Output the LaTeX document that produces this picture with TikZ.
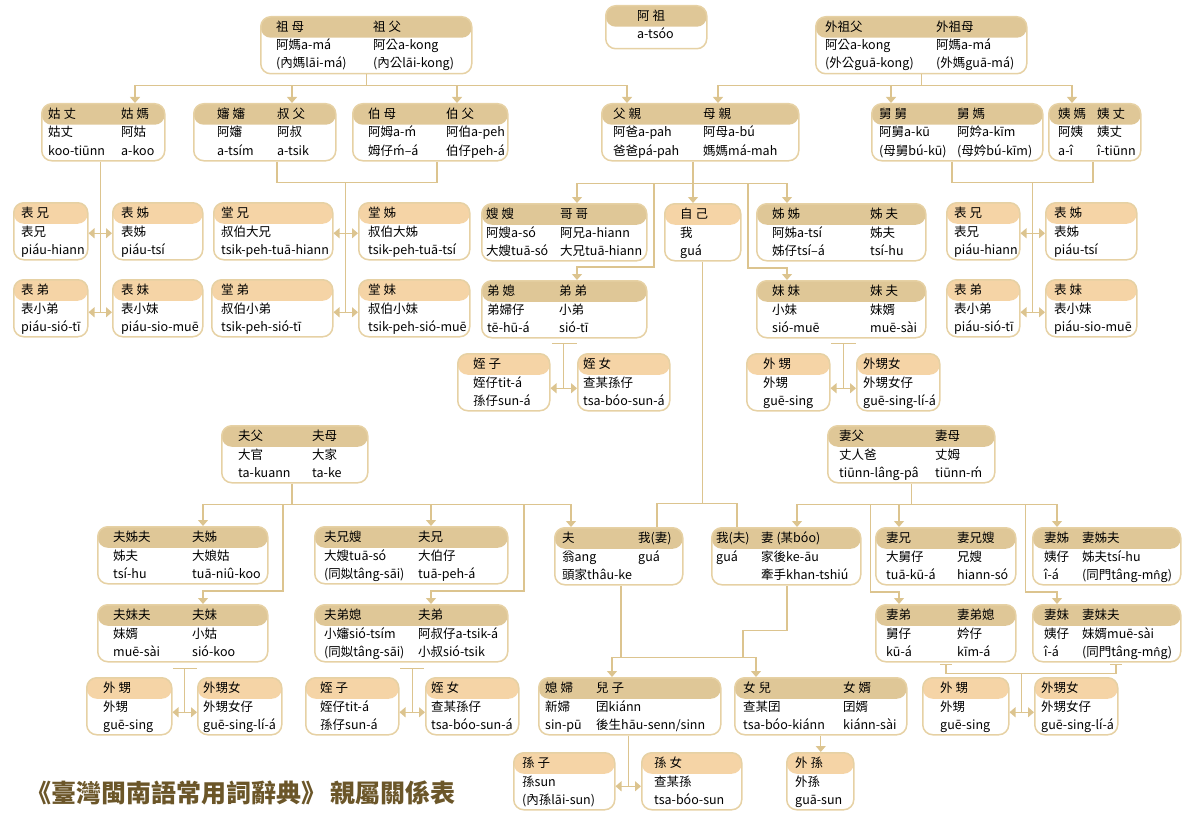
\documentclass[tikz,border=0pt]{standalone}
\usepackage{fontspec}
\setmainfont{Noto Sans CJK TC}
\newfontfamily\markfont[Scale=0.9]{DejaVu Sans}
\usetikzlibrary{arrows.meta}

\definecolor{hdtan}{HTML}{DFC797}
\definecolor{hdpeach}{HTML}{F5D4A6}
\definecolor{boxedge}{HTML}{E6D1A4}
\definecolor{linktan}{HTML}{DCC48F}
\definecolor{titlebrown}{HTML}{6B5629}

\newcommand{\kinfont}{\fontsize{12.5}{15}\selectfont}
\newcommand{\nhat}{{\markfont n̂}}

% a box with two columns: name, box options, left x, right x, left column, right column
\newcommand{\kin}[6]{%
  \node[#2] (#1) {};
  \kincol{#1}{l}{#3}#5\relax
  \kincol{#1}{r}{#4}#6\relax}
% a box with one column
\newcommand{\kinone}[4]{%
  \node[#2] (#1) {};
  \kincol{#1}{l}{#3}#4\relax}
\def\kincol#1#2#3#4|#5|#6\relax{%
  \node[kintext] (#1#2h) at ([xshift=#3pt,yshift=-15.5pt]#1.north west) {#4};
  \node[kintext] (#1#2a) at ([xshift=#3pt,yshift=-34pt]#1.north west) {#5};
  \node[kintext] (#1#2b) at ([xshift=#3pt,yshift=-52pt]#1.north west) {#6};}

\begin{document}
\begin{tikzpicture}[
		x=1pt, y=-1pt,
		kinbox/.style={draw=boxedge, line width=1.5pt, fill=white, rounded corners=10pt,
			anchor=north west, minimum height=57, inner sep=0},
		tanbox/.style={kinbox, path picture={\fill[hdtan] (path picture bounding box.north west)
			rectangle ([yshift=-21pt]path picture bounding box.north east);}},
		peachbox/.style={kinbox, path picture={\fill[hdpeach] (path picture bounding box.north west)
			rectangle ([yshift=-21pt]path picture bounding box.north east);}},
		kintext/.style={anchor=base west, inner sep=0, font=\kinfont},
		link/.style={draw=linktan, line width=1.2pt},
		tip/.style={link, -{Triangle[width=10pt,length=6pt]}},
		twotip/.style={link, {Triangle[width=10pt,length=6pt]}-{Triangle[width=10pt,length=6pt]}},
	]
	\useasboundingbox (0,0) rectangle (1191,824);

	% grandparents
	\kin{gp}{tanbox, at={(260,16)}, minimum width=211}{16}{113}{祖 母|阿媽a-má|(內媽lāi-má)}{祖 父|阿公a-kong|(內公lāi-kong)}
	\kinone{az}{tanbox, at={(605,5)}, minimum width=101, minimum height=43}{32}{阿 祖|a-tsóo|}
	\kin{mgp}{tanbox, at={(815,16)}, minimum width=211}{10}{121}{外祖父|阿公a-kong|(外公guā-kong)}{外祖母|阿媽a-má|(外媽guā-má)}

	% parents' generation
	\kin{gz}{tanbox, at={(41,103)}, minimum width=123}{7}{80}{姑 丈|姑丈|koo-tiūnn}{姑 媽|阿姑|a-koo}
	\kin{ss}{tanbox, at={(193,103)}, minimum width=142}{24}{84}{嬸 嬸|阿嬸|a-tsím}{叔 父|阿叔|a-tsik}
	\kin{bm}{tanbox, at={(352,103)}, minimum width=155}{16}{94}{伯 母|阿姆a-ḿ|姆仔ḿ--á}{伯 父|阿伯a-peh|伯仔peh-á}
	\kin{fq}{tanbox, at={(601,103)}, minimum width=197}{12}{102}{父 親|阿爸a-pah|爸爸pá-pah}{母 親|阿母a-bú|媽媽má-mah}
	\kin{jj}{tanbox, at={(871,103)}, minimum width=171}{8}{86}{舅 舅|阿舅a-kū|(母舅bú-kū)}{舅 媽|阿妗a-kīm|(母妗bú-kīm)}
	\kin{ym}{tanbox, at={(1048,103)}, minimum width=92}{10}{49}{姨 媽|阿姨|a-î}{姨 丈|姨丈|î-tiūnn}

	% own generation
	\kinone{bx1}{peachbox, at={(13,202)}, minimum width=74}{8}{表 兄|表兄|piáu-hiann}
	\kinone{bz1}{peachbox, at={(112,202)}, minimum width=90}{9}{表 姊|表姊|piáu-tsí}
	\kinone{tx}{peachbox, at={(213,202)}, minimum width=119}{8}{堂 兄|叔伯大兄|tsik-peh-tuā-hiann}
	\kinone{tz}{peachbox, at={(358,202)}, minimum width=111}{10}{堂 姊|叔伯大姊|tsik-peh-tuā-tsí}
	\kin{sao}{tanbox, at={(481,203)}, minimum width=165}{5}{79}{嫂 嫂|阿嫂a-só|大嫂tuā-só}{哥 哥|阿兄a-hiann|大兄tuā-hiann}
	\kinone{zj}{peachbox, at={(664,203)}, minimum width=76}{16}{自 己|我|guá}
	\kin{jz}{tanbox, at={(756,203)}, minimum width=169}{16}{114}{姊 姊|阿姊a-tsí|姊仔tsí--á}{姊 夫|姊夫|tsí-hu}
	\kinone{bx2}{peachbox, at={(946,202)}, minimum width=73}{8}{表 兄|表兄|piáu-hiann}
	\kinone{bz2}{peachbox, at={(1045,202)}, minimum width=91}{9}{表 姊|表姊|piáu-tsí}

	\kinone{bd1}{peachbox, at={(13,279)}, minimum width=74}{8}{表 弟|表小弟|piáu-sió-tī}
	\kinone{bm1}{peachbox, at={(112,279)}, minimum width=90}{9}{表 妹|表小妹|piáu-sio-muē}
	\kinone{td}{peachbox, at={(211,279)}, minimum width=121}{10}{堂 弟|叔伯小弟|tsik-peh-sió-tī}
	\kinone{tm}{peachbox, at={(358,279)}, minimum width=111}{10}{堂 妹|叔伯小妹|tsik-peh-sió-muē}
	\kin{dx}{tanbox, at={(481,280)}, minimum width=165}{6}{78}{弟 媳|弟婦仔|tē-hū-á}{弟 弟|小弟|sió-tī}
	\kin{mm}{tanbox, at={(756,280)}, minimum width=169}{16}{114}{妹 妹|小妹|sió-muē}{妹 夫|妹婿|muē-sài}
	\kinone{bd2}{peachbox, at={(946,279)}, minimum width=73}{8}{表 弟|表小弟|piáu-sió-tī}
	\kinone{bm2}{peachbox, at={(1045,279)}, minimum width=91}{9}{表 妹|表小妹|piáu-sio-muē}

	\kinone{zz1}{peachbox, at={(457,353)}, minimum width=92}{16}{姪 子|姪仔tit-á|孫仔sun-á}
	\kinone{zn1}{peachbox, at={(577,353)}, minimum width=92}{6}{姪 女|查某孫仔|tsa-bóo-sun-á}
	\kinone{ws1}{peachbox, at={(746,353)}, minimum width=83}{17}{外 甥|外甥|guē-sing}
	\kinone{wn1}{peachbox, at={(856,353)}, minimum width=83}{7}{外甥女|外甥女仔|guē-sing-lí-á}

	% in-laws
	\kin{fp}{tanbox, at={(221,425)}, minimum width=146}{17}{91}{夫父|大官|ta-kuann}{夫母|大家|ta-ke}
	\kin{qp}{tanbox, at={(827,425)}, minimum width=167}{12}{108}{妻父|丈人爸|tiūnn-lâng-pâ}{妻母|丈姆|tiūnn-ḿ}

	\kin{fzf}{tanbox, at={(97,526)}, minimum width=170}{16}{95}{夫姊夫|姊夫|tsí-hu}{夫姊|大娘姑|tuā-niû-koo}
	\kin{fxs}{tanbox, at={(314,526)}, minimum width=193}{10}{104}{夫兄嫂|大嫂tuā-só|(同姒tâng-sāi)}{夫兄|大伯仔|tuā-peh-á}
	\kin{fu}{tanbox, at={(554,527)}, minimum width=128}{8}{84}{夫|翁ang|頭家thâu-ke}{我(妻)|guá|}
	\kin{qi}{tanbox, at={(711,527)}, minimum width=149}{5}{50}{我(夫)|guá|}{妻 (某bóo)|家後ke-āu|牽手khan-tshiú}
	\kin{qx}{tanbox, at={(875,527)}, minimum width=140}{11}{82}{妻兄|大舅仔|tuā-kū-á}{妻兄嫂|兄嫂|hiann-só}
	\kin{qz}{tanbox, at={(1032,527)}, minimum width=148}{12}{50}{妻姊|姨仔|î-á}{妻姊夫|姊夫tsí-hu|(同門tâng-m\nhat g)}

	\kin{fmf}{tanbox, at={(97,604)}, minimum width=170}{16}{95}{夫妹夫|妹婿|muē-sài}{夫妹|小姑|sió-koo}
	\kin{fdx}{tanbox, at={(314,604)}, minimum width=193}{10}{104}{夫弟媳|小嬸sió-tsím|(同姒tâng-sāi)}{夫弟|阿叔仔a-tsik-á|小叔sió-tsik}
	\kin{qd}{tanbox, at={(875,604)}, minimum width=140}{11}{82}{妻弟|舅仔|kū-á}{妻弟媳|妗仔|kīm-á}
	\kin{qm}{tanbox, at={(1032,604)}, minimum width=148}{12}{50}{妻妹|姨仔|î-á}{妻妹夫|妹婿muē-sài|(同門tâng-m\nhat g)}

	% children and grandchildren
	\kinone{ws2}{peachbox, at={(86,677)}, minimum width=85}{17}{外 甥|外甥|guē-sing}
	\kinone{wn2}{peachbox, at={(197,677)}, minimum width=84}{6}{外甥女|外甥女仔|guē-sing-lí-á}
	\kinone{zz2}{peachbox, at={(305,677)}, minimum width=93}{15}{姪 子|姪仔tit-á|孫仔sun-á}
	\kinone{zn2}{peachbox, at={(425,677)}, minimum width=93}{6}{姪 女|查某孫仔|tsa-bóo-sun-á}
	\kin{xf}{tanbox, at={(538,677)}, minimum width=182}{7}{58}{媳 婦|新婦|sin-pū}{兒 子|囝kiánn|後生hāu-senn/sinn}
	\kin{ne}{tanbox, at={(734,677)}, minimum width=172}{9}{109}{女 兒|查某囝|tsa-bóo-kiánn}{女 婿|囝婿|kiánn-sài}
	\kinone{ws3}{peachbox, at={(922,677)}, minimum width=86}{18}{外 甥|外甥|guē-sing}
	\kinone{wn3}{peachbox, at={(1034,677)}, minimum width=83}{7}{外甥女|外甥女仔|guē-sing-lí-á}

	\kinone{sz}{peachbox, at={(513,752)}, minimum width=101}{9}{孫 子|孫sun|(內孫lāi-sun)}
	\kinone{sn}{peachbox, at={(641,752)}, minimum width=100}{13}{孫 女|查某孫|tsa-bóo-sun}
	\kinone{ws}{peachbox, at={(786,752)}, minimum width=67}{9}{外 孫|外孫|guā-sun}

	\node (title) [anchor=west, inner sep=0, text=titlebrown, font=\fontsize{25}{25}\selectfont\bfseries] at (26,793) {《臺灣閩南語常用詞辭典》\,親屬關係表};

	% grandparents' children
	\draw[link] (gp.south) -- ++(0,11) coordinate (gpb);
	\draw[tip] (gpb) -| ([xshift=94]gz.north west);
	\draw[tip] (gpb) -| ([xshift=99]ss.north west);
	\draw[tip] (gpb) -| ([xshift=105]bm.north west);
	\draw[tip] (gpb) -| ([xshift=26]fq.north west);

	\draw[link] (mgp.south) -- ++(0,11) coordinate (mgpb);
	\draw[tip] (mgpb) -| ([xshift=117]fq.north west);
	\draw[tip] (mgpb) -| ([xshift=20]jj.north west);
	\draw[tip] (mgpb) -| ([xshift=24]ym.north west);

	% cousins
	\draw[twotip] ([yshift=-2]bx1.east) -- ([yshift=-2]bz1.west);
	\draw[twotip] ([yshift=-4]bd1.east) -- coordinate (gzc) ([yshift=-4]bm1.west);
	\draw[link] (gzc |- gz.south) -- (gzc);

	\draw[link] ([xshift=84]ss.south west) -- ++(0,21) coordinate (ssb) -| ([xshift=85]bm.south west);
	\draw[twotip] ([yshift=-2]tx.east) -- ([yshift=-2]tz.west);
	\draw[twotip] ([yshift=-4]td.east) -- coordinate (ssc) ([yshift=-4]tm.west);
	\draw[link] (ssc |- ssb) -- (ssc);

	\draw[link] ([xshift=81]jj.south west) -- ++(0,21) coordinate (jjb) -| ([xshift=45]ym.south west);
	\draw[twotip] ([yshift=-2]bx2.east) -- ([yshift=-2]bz2.west);
	\draw[twotip] ([yshift=-4]bd2.east) -- coordinate (jjc) ([yshift=-4]bm2.west);
	\draw[link] (jjc |- jjb) -- (jjc);

	% siblings
	\coordinate (fqs) at ([xshift=92]fq.south west);
	\coordinate (fqb) at ([yshift=-22]fqs);
	\draw[tip] (fqs) -- (fqs |- zj.north);
	\draw[tip] (fqb) -| ([xshift=96]sao.north west);
	\draw[tip] (fqb) -| ([xshift=31]jz.north west);
	\draw[tip] ([xshift=-39]fqb) |- ([xshift=96,yshift=13]dx.north west) -- ([xshift=96]dx.north west);
	\draw[tip] ([xshift=55]fqb) |- ([xshift=31,yshift=12]mm.north west) -- ([xshift=31]mm.north west);

	\draw[twotip] ([yshift=-6]zz1.east) -- coordinate (dxc) ([yshift=-6]zn1.west);
	\draw[link] (dxc) -- ++(0,-45) coordinate (dxt);
	\draw[link] ([xshift=-12]dxt) -- ([xshift=13]dxt);
	\draw[twotip] ([yshift=-6]ws1.east) -- coordinate (mmc) ([yshift=-6]wn1.west);
	\draw[link] (mmc) -- ++(0,-45) coordinate (mmt);
	\draw[link] ([xshift=-12]mmt) -- ([xshift=13]mmt);

	% husband's family
	\draw[link] ([xshift=71]fp.south west) -- ++(0,21) coordinate (fpb);
	\draw[tip] (fpb) -| ([xshift=106]fzf.north west);
	\draw[tip] (fpb) -| ([xshift=117]fxs.north west);
	\draw[tip] (fpb) -| ([xshift=17]fu.north west);
	\draw[tip] ([xshift=-9]fpb) |- ([xshift=106,yshift=13]fmf.north west) -- ([xshift=106]fmf.north west);
	\draw[tip] ([xshift=232]fpb) |- ([xshift=117,yshift=13]fdx.north west) -- ([xshift=117]fdx.north west);

	\draw[twotip] ([yshift=-6]ws2.east) -- coordinate (fmc) ([yshift=-6]wn2.west);
	\draw[link] (fmc) -- ++(0,-44) coordinate (fmt);
	\draw[link] ([xshift=-12]fmt) -- ([xshift=12]fmt);
	\draw[twotip] ([yshift=-6]zz2.east) -- coordinate (fdc) ([yshift=-6]zn2.west);
	\draw[link] (fdc) -- ++(0,-44) coordinate (fdt);
	\draw[link] ([xshift=-12]fdt) -- ([xshift=12]fdt);

	% self and spouse
	\draw[link] (zj.south) -- ++(0,242) coordinate (zjb);
	\draw[link] (zjb) -| ([xshift=103]fu.north west);
	\draw[link] (zjb) -| ([xshift=26]qi.north west);

	% wife's family
	\draw[link] (qp.south) -- ++(0,21) coordinate (qpb);
	\draw[tip] (qpb) -| ([xshift=86]qi.north west);
	\draw[tip] (qpb) -| ([xshift=24]qx.north west);
	\draw[tip] (qpb) -| ([xshift=25]qz.north west);
	\draw[tip] ([xshift=-41]qpb) |- ([xshift=24,yshift=12]qd.north west) -- ([xshift=24]qd.north west);
	\draw[tip] ([xshift=114]qpb) |- ([xshift=25,yshift=12]qm.north west) -- ([xshift=25]qm.north west);

	\coordinate (qdk) at ([xshift=71,yshift=-2]qd.south west);
	\coordinate (qmk) at ([xshift=84,yshift=-2]qm.south west);
	\draw[link] (qdk) -- ++(0,9) coordinate (qmb) -| (qmk);
	\draw[link] ([xshift=-6]qdk) -- ([xshift=6]qdk);
	\draw[link] ([xshift=-6]qmk) -- ([xshift=6]qmk);
	\draw[twotip] ([yshift=-6]ws3.east) -- coordinate (qmc) ([yshift=-6]wn3.west);
	\draw[link] (qmc |- qmb) -- (qmc);

	% children and grandchildren
	\draw[link] ([xshift=67]fu.south west) -- ++(0,72) coordinate (fub);
	\draw[link] ([xshift=76]qi.south west) -- ++(0,45) -| ([xshift=122]fub);
	\draw[tip] (fub) -| ([xshift=74]xf.north west);
	\draw[tip] (fub) -| ([xshift=22]ne.north west);

	\draw[twotip] ([yshift=-5]sz.east) -- coordinate (xfc) ([yshift=-5]sn.west);
	\draw[link] (xfc |- xf.south) -- (xfc);
	\draw[tip] (ne.south) -- (ne.south |- ws.north);
\end{tikzpicture}
\end{document}
